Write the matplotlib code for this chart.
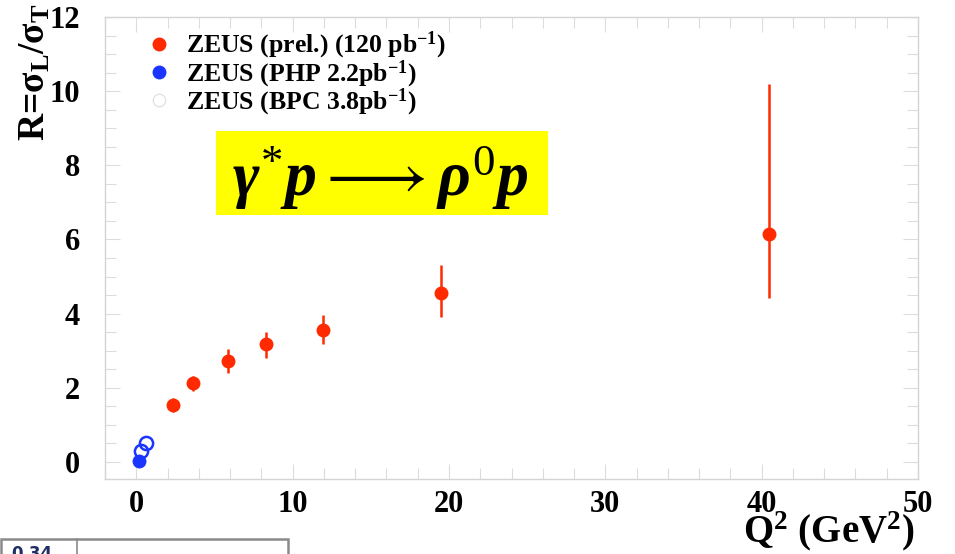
import matplotlib
matplotlib.use("Agg")
import matplotlib.pyplot as plt
from matplotlib.lines import Line2D
from matplotlib.patches import Rectangle
from matplotlib.ticker import MultipleLocator

plt.rcParams['font.family'] = ['Liberation Serif', 'DejaVu Serif']
plt.rcParams['mathtext.fontset'] = 'custom'
plt.rcParams['mathtext.rm'] = 'Liberation Serif'
plt.rcParams['mathtext.it'] = 'Liberation Serif:italic:bold'
plt.rcParams['mathtext.bf'] = 'Liberation Serif:bold'

# ---- data ----
zeus_q2 = [2.36, 3.64, 5.86, 8.29, 11.97, 19.51, 40.49]
zeus_r = [1.53, 2.12, 2.71, 3.17, 3.55, 4.56, 6.15]
zeus_err_lo = [0.19, 0.20, 0.32, 0.36, 0.38, 0.65, 1.73]
zeus_err_hi = [0.19, 0.20, 0.33, 0.33, 0.42, 0.76, 4.05]

php_q2 = [0.15]
php_r = [0.03]

bpc_q2 = [0.30, 0.62]
bpc_r = [0.30, 0.50]

legend_labels = [r'ZEUS (prel.) (120 pb$^{\mathbf{-1}}$)',
                 r'ZEUS (PHP 2.2pb$^{\mathbf{-1}}$)',
                 r'ZEUS (BPC 3.8pb$^{\mathbf{-1}}$)']

red = '#ff2a00'
blue = '#1a35ff'

fig = plt.figure(figsize=(9.55, 5.54), dpi=100)
ax = fig.add_axes([105/955, 1-479/554, (918-105)/955, (479-17)/554])

ax.errorbar(zeus_q2, zeus_r, yerr=[zeus_err_lo, zeus_err_hi], fmt='o',
            color=red, ms=9, elinewidth=1.8, capsize=0, zorder=3)
ax.plot(php_q2, php_r, 'o', color=blue, ms=9, zorder=3)
ax.plot(bpc_q2, bpc_r, 'o', mfc='none', mec=blue, mew=1.8, ms=9.5, zorder=3)

ax.set_xlim(-2.0, 50.0)
ax.set_ylim(-0.46, 12.0)
ax.xaxis.set_major_locator(MultipleLocator(10))
ax.xaxis.set_minor_locator(MultipleLocator(2))
ax.yaxis.set_major_locator(MultipleLocator(2))
ax.yaxis.set_minor_locator(MultipleLocator(0.5))

for s in ax.spines.values():
    s.set_color('#d4d4d4')
    s.set_linewidth(1.0)
ax.tick_params(which='both', direction='in', top=True, right=True,
               color='#dcdcdc', width=0.8)
ax.tick_params(which='major', length=11)
ax.tick_params(which='minor', length=8)
ax.tick_params(axis='x', which='major', pad=8, labelsize=22)
ax.tick_params(axis='y', which='major', pad=18, labelsize=22)
for lab in ax.get_xticklabels() + ax.get_yticklabels():
    lab.set_fontweight('bold')

# legend
handles = [Line2D([], [], ls='none', marker='o', color=red, ms=9),
           Line2D([], [], ls='none', marker='o', color=blue, ms=9),
           Line2D([], [], ls='none', marker='o', mfc='none', mec='#dcdce8', mew=0.8, ms=9)]
leg = ax.legend(handles, legend_labels, loc='upper left',
                bbox_to_anchor=(146/955, 1-30/554), bbox_transform=fig.transFigure,
                frameon=False, handlelength=1.0, handletextpad=0.55,
                labelspacing=-0.12, borderpad=0, borderaxespad=0,
                prop={'family': 'Liberation Serif', 'weight': 'bold', 'size': 18.5})

# y label (top-aligned)
fig.text(35/955, 1-3/554, r'R=σ$_{\mathbf{L}}$/σ$_{\mathbf{T}}$', rotation=90,
         ha='center', va='top', fontsize=27, fontweight='bold')
# x label
fig.text(829/955, 1-531/554, r'Q$^{\mathbf{2}}$ (GeV$^{\mathbf{2}}$)',
         ha='center', va='center', fontsize=28, fontweight='bold')

# yellow box with reaction
fig.patches.append(Rectangle((216/955, 1-215/554), 332/955, 84/554,
                             transform=fig.transFigure, facecolor='#ffff00',
                             edgecolor='none', zorder=5))
fig.text(380/955, 1-178/554, r'$\gamma^{*}p\longrightarrow\rho^{0}p$',
         ha='center', va='center', fontsize=46, zorder=6)

# cropped widget at bottom-left of the screenshot
fig.patches.append(Rectangle((1/955, -0.05), 287/955, 0.05 + 15/554,
                             transform=fig.transFigure, facecolor='white',
                             edgecolor='#8a8a8a', lw=1.8, zorder=5))
fig.lines.append(Line2D([77/955, 77/955], [0, 15/554], transform=fig.transFigure,
                        color='#8a8a8a', lw=1.2, zorder=6))
fig.text(32/955, 1-545/554, '0.34', ha='center', va='top', fontsize=12,
         fontweight='bold', color='#1f2f66', family='DejaVu Sans', zorder=7)

fig.savefig('out.png', dpi=100)
